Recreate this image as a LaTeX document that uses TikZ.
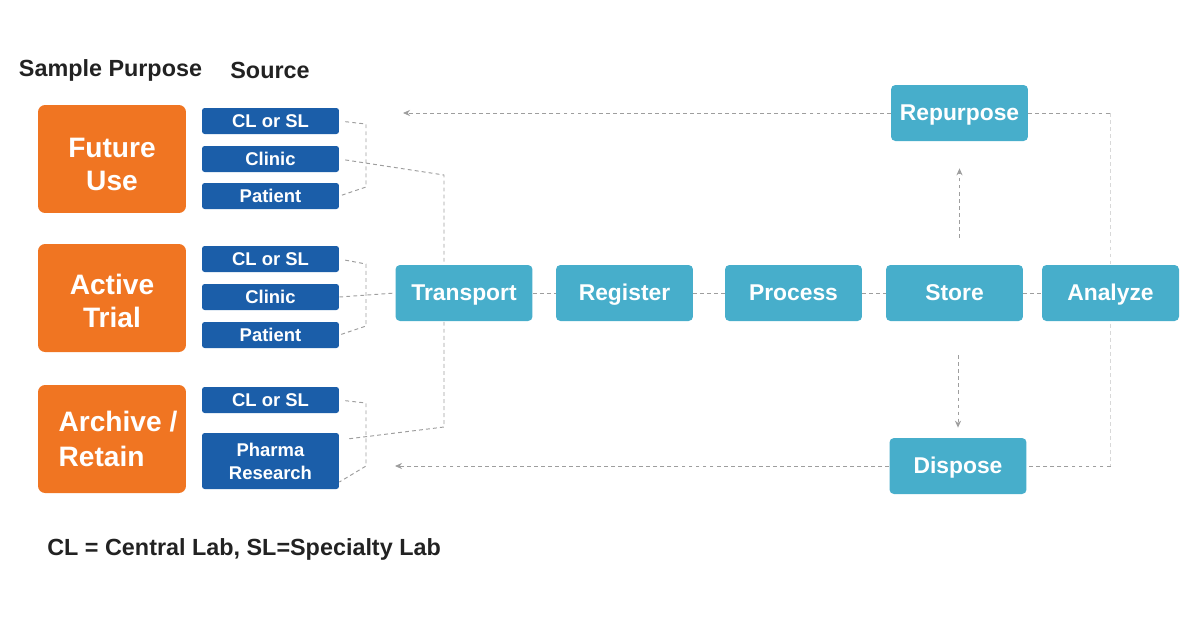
\documentclass[tikz,border=0pt]{standalone}
\usepackage{fontspec}
\setmainfont{Liberation Sans}
\usetikzlibrary{backgrounds,arrows.meta}

\definecolor{purpose}{HTML}{F07522}
\definecolor{source}{HTML}{1B5EA9}
\definecolor{step}{HTML}{47AECB}
\definecolor{wire}{HTML}{9E9E9E}
\definecolor{wirelight}{HTML}{D8D8D8}
\definecolor{ink}{HTML}{222222}

\newcommand{\lift}[1]{\rule{0pt}{#1}}

\tikzset{
  >={Stealth[length=4pt, width=3.5pt]},
  purposebox/.style={fill=purpose, rounded corners=4pt, minimum width=2.96cm, minimum height=2.16cm,
    inner sep=0pt, text=white, font=\fontsize{16}{19}\selectfont\bfseries, align=center},
  sourcebox/.style={fill=source, rounded corners=1.5pt, minimum width=2.74cm, minimum height=0.52cm,
    inner sep=0pt, text=white, font=\fontsize{10.5}{13}\selectfont\bfseries, align=center,
    text height=0.75em, text depth=0pt},
  stepbox/.style={fill=step, rounded corners=2.5pt, minimum width=2.74cm, minimum height=1.12cm,
    inner sep=0pt, text=white, font=\fontsize{13}{15}\selectfont\bfseries, text height=0.85em, text depth=0pt},
  heading/.style={text=ink, inner sep=0pt, font=\fontsize{13.3}{16}\selectfont\bfseries},
  link/.style={draw=wire, line width=0.55pt, dash pattern=on 2.2pt off 1.8pt},
}

\begin{document}
\begin{tikzpicture}[x=0.02cm, y=-0.02cm]
\useasboundingbox (0,0) rectangle (1200,630);

% headings
\node[heading] (hpurpose) at (110.5,70) {Sample Purpose};
\node[heading] (hsource) at (270,70) {Source};

% sample purpose
\node[purposebox] (fu) at (112,159) {\lift{17.2pt}Future\\Use};
\node[purposebox] (at) at (112,298) {\lift{15pt}Active\\Trial};
\node[purposebox, align=left, font=\fontsize{16}{19.5}\selectfont\bfseries] (ar) at (112,439)
  {\hspace*{6.8pt}Archive /\\\hspace*{6.8pt}Retain};

% sources
\node[sourcebox] (s1a) at (270.5,121) {CL or SL};
\node[sourcebox] (s1b) at (270.5,159) {Clinic};
\node[sourcebox] (s1c) at (270.5,196) {Patient};

\node[sourcebox] (s2a) at (270.5,259) {CL or SL};
\node[sourcebox] (s2b) at (270.5,297) {Clinic};
\node[sourcebox] (s2c) at (270.5,335) {Patient};

\node[sourcebox] (s3a) at (270.5,400) {CL or SL};
\node[sourcebox, minimum height=1.12cm, text height=, text depth=] (s3b) at (270.5,461) {Pharma\\Research};

% workflow
\node[stepbox] (tr) at (464,293) {Transport};
\node[stepbox] (rg) at (624.5,293) {Register};
\node[stepbox] (pr) at (793.5,293) {Process};
\node[stepbox] (st) at (954.5,293) {Store};
\node[stepbox] (an) at (1110.5,293) {Analyze};
\node[stepbox] (rp) at (959.5,113) {Repurpose};
\node[stepbox] (dp) at (958,466) {Dispose};

\node[heading, anchor=west] (note) at (47,549) {CL = Central Lab, SL=Specialty Lab};

% bracket corners
\coordinate (k1a) at (366,124);
\coordinate (k1b) at (366,187);
\coordinate (k2a) at (366,264);
\coordinate (k2b) at (366,326);
\coordinate (k3a) at (366,403);
\coordinate (k3b) at (366,466);
\coordinate (t1) at (444,175);
\coordinate (t3) at (444,427);
\coordinate (back1) at (403,113);
\coordinate (back2) at (395,466);

\begin{pgfonlayer}{background}
\draw[link, shorten <=0.12cm] (s1a.east) -- (k1a) -- (k1b) -- (s1c.east);
\draw[link, shorten <=0.12cm] (s1b.east) -- (t1) -- (t1 |- tr.north);

\draw[link, shorten <=0.12cm] (s2a.east) -- (k2a) -- (k2b) -- (s2c.east);
\draw[link] (s2b.east) -- (tr.west);

\draw[link, shorten <=0.12cm] (s3a.east) -- (k3a) -- (k3b) -- (s3b.-17);
\draw[link, shorten <=0.2cm] (s3b.17) -- (t3) -- (t3 |- tr.south);

\draw[link] (tr.east) -- (rg.west);
\draw[link] (rg.east) -- (pr.west);
\draw[link] (pr.east) -- (st.west);
\draw[link] (st.east) -- (an.west);

\draw[link, ->, shorten <=0.54cm, shorten >=0.54cm] (rp.south |- st.north) -- (rp.south);
\draw[link, ->, shorten <=0.68cm, shorten >=0.2cm] (dp.north |- st.south) -- (dp.north);

\draw[link] (rp.east) -- (rp.east -| an.center);
\draw[link, draw=wirelight] (rp.east -| an.center) -- (dp.east -| an.center);
\draw[link] (dp.east -| an.center) -- (dp.east);

\draw[link, ->] (rp.west) -- (back1);
\draw[link, ->] (dp.west) -- (back2);
\end{pgfonlayer}

\end{tikzpicture}
\end{document}
